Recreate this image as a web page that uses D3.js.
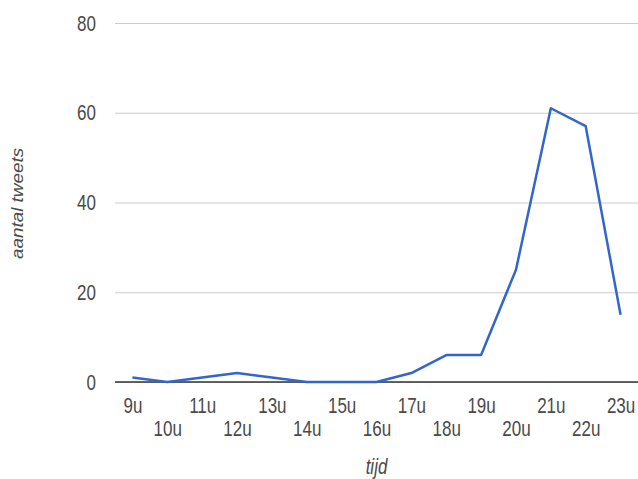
<!DOCTYPE html>
<html>
<head>
<meta charset="utf-8">
<script src="https://cdn.jsdelivr.net/npm/d3@7"></script>
<style>
  html, body { margin: 0; padding: 0; background: #fff; }
  svg { display: block; font-family: Arial, "Liberation Sans", sans-serif; }
</style>
</head>
<body>
<svg id="chart" width="638" height="479"></svg>
<script>
// Hours of the day (x categories)
const categories = ["9u", "10u", "11u", "12u", "13u", "14u", "15u", "16u",
                    "17u", "18u", "19u", "20u", "21u", "22u", "23u"];
// Number of tweets per hour
const tweets = [1, 0, 1, 2, 1, 0, 0, 0, 2, 6, 6, 25, 61, 57, 15];
// Y-axis tick labels
const yTicks = [0, 20, 40, 60, 80];

const xTitle = "tijd";
const yTitle = "aantal tweets";

const plot = { left: 115, right: 638, top: 23, bottom: 382 };
const textStretch = 1.25;   // text is rendered slightly tall
const fontSize = 17;
const textColor = "#4a4a4a";

const svg = d3.select("#chart");

svg.append("rect")
  .attr("width", 638).attr("height", 479).attr("fill", "#fff");

const x = d3.scalePoint()
  .domain(categories)
  .range([plot.left, plot.right])
  .padding(0.5);

const y = d3.scaleLinear()
  .domain([0, 80])
  .range([plot.bottom, plot.top]);

// Y axis with horizontal gridlines
const yAxis = svg.append("g")
  .attr("transform", `translate(${plot.left},0)`)
  .call(d3.axisLeft(y).tickValues(yTicks).tickSize(-(plot.right - plot.left)).tickPadding(0));

yAxis.select(".domain").remove();
yAxis.selectAll(".tick line")
  .attr("stroke", "#cccccc")
  .attr("stroke-width", 1);
yAxis.selectAll(".tick text")
  .attr("x", null).attr("dy", null)
  .attr("dominant-baseline", "central")
  .attr("transform", `translate(-19,0) scale(1,${textStretch})`)
  .attr("font-size", fontSize)
  .attr("fill", textColor);

// X axis labels, staggered over two rows
const xAxis = svg.append("g")
  .attr("transform", `translate(0,${plot.bottom})`)
  .call(d3.axisBottom(x).tickSize(0).tickPadding(0));

xAxis.select(".domain").remove();
xAxis.selectAll(".tick text")
  .attr("y", null).attr("dy", null)
  .attr("dominant-baseline", "central")
  .attr("transform", (d, i) => `translate(0,${i % 2 ? 47 : 24}) scale(1,${textStretch})`)
  .attr("font-size", fontSize)
  .attr("fill", textColor);

// Baseline at zero
svg.append("line")
  .attr("x1", plot.left).attr("x2", plot.right)
  .attr("y1", y(0)).attr("y2", y(0))
  .attr("stroke", "#333")
  .attr("stroke-width", 1.3);

// Data line
const line = d3.line()
  .x((d, i) => x(categories[i]))
  .y(d => y(d));

svg.append("path")
  .datum(tweets)
  .attr("d", line)
  .attr("fill", "none")
  .attr("stroke", "#3366cc")
  .attr("stroke-width", 2.5)
  .attr("stroke-linejoin", "round");

// Axis titles
svg.append("text")
  .attr("transform", `translate(${(plot.left + plot.right) / 2},467) scale(1,${textStretch})`)
  .attr("text-anchor", "middle")
  .attr("dominant-baseline", "central")
  .attr("font-size", fontSize)
  .attr("font-style", "italic")
  .attr("fill", textColor)
  .text(xTitle);

svg.append("text")
  .attr("transform", `translate(17.5,203.5) scale(1,1.18) rotate(-90)`)
  .attr("text-anchor", "middle")
  .attr("dominant-baseline", "central")
  .attr("font-size", 16)
  .attr("font-style", "italic")
  .attr("fill", textColor)
  .text(yTitle);
</script>
</body>
</html>
